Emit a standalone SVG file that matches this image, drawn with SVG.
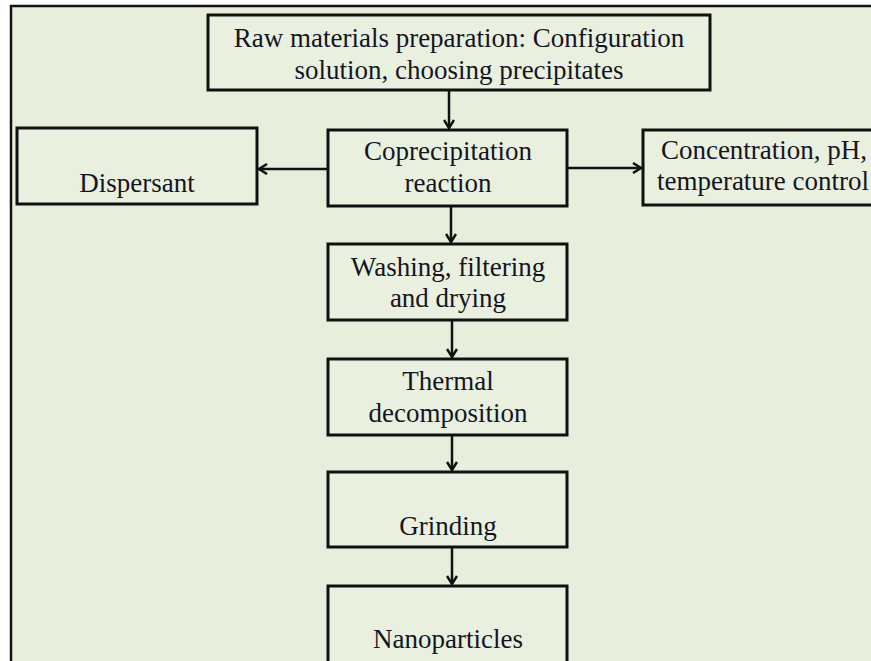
<svg xmlns="http://www.w3.org/2000/svg" width="871" height="661" viewBox="0 0 871 661">
<style>
.box{fill:#e9f0e0;stroke:#111;stroke-width:3}
.t{font-family:"Liberation Serif","Times New Roman",serif;font-size:27px;fill:#15151f;text-anchor:middle}
.c{fill:none;stroke:#111;stroke-width:2.5}
</style>
<defs>
<marker id="ah" viewBox="0 0 12 12" refX="10" refY="6" markerWidth="12" markerHeight="12" markerUnits="userSpaceOnUse" orient="auto">
<path d="M2,1 L10,6 L2,11" fill="none" stroke="#111" stroke-width="2.5"/>
</marker>
</defs>
<rect x="0" y="0" width="871" height="661" fill="#ffffff"/>
<rect x="11" y="6" width="870" height="670" fill="#e7efdc"/>
<path d="M11,676 L11,6 L871,6" fill="none" stroke="#111" stroke-width="2.5"/>
<g id="raw">
<rect class="box" x="208" y="15" width="502" height="75"/>
<text class="t" x="459" y="47">Raw materials preparation: Configuration</text>
<text class="t" x="459" y="79">solution, choosing precipitates</text>
</g>
<g id="coprecipitation">
<rect class="box" x="328" y="130" width="239" height="76"/>
<text class="t" x="448" y="160">Coprecipitation</text>
<text class="t" x="448" y="192">reaction</text>
</g>
<g id="dispersant">
<rect class="box" x="17" y="128" width="240" height="76"/>
<text class="t" x="137" y="192">Dispersant</text>
</g>
<g id="concentration">
<rect class="box" x="643" y="130" width="260" height="75"/>
<text class="t" x="764" y="159">Concentration, pH,</text>
<text class="t" x="763" y="190">temperature control</text>
</g>
<g id="washing">
<rect class="box" x="328" y="244" width="239" height="76"/>
<text class="t" x="448" y="276">Washing, filtering</text>
<text class="t" x="448" y="307">and drying</text>
</g>
<g id="thermal">
<rect class="box" x="328" y="359" width="239" height="76"/>
<text class="t" x="448" y="390">Thermal</text>
<text class="t" x="448" y="422">decomposition</text>
</g>
<g id="grinding">
<rect class="box" x="328" y="472" width="239" height="75"/>
<text class="t" x="448" y="535">Grinding</text>
</g>
<g id="nanoparticles">
<rect class="box" x="328" y="586" width="239" height="90"/>
<text class="t" x="448" y="648">Nanoparticles</text>
</g>
<g id="connectors">
<line class="c" x1="449" y1="90" x2="449" y2="128" marker-end="url(#ah)"/>
<line class="c" x1="451" y1="206" x2="451" y2="242" marker-end="url(#ah)"/>
<line class="c" x1="452" y1="320" x2="452" y2="357" marker-end="url(#ah)"/>
<line class="c" x1="452" y1="435" x2="452" y2="470" marker-end="url(#ah)"/>
<line class="c" x1="452" y1="547" x2="452" y2="584" marker-end="url(#ah)"/>
<line class="c" x1="328" y1="169" x2="259" y2="169" marker-end="url(#ah)"/>
<line class="c" x1="567" y1="168" x2="641" y2="168" marker-end="url(#ah)"/>
</g>
</svg>
